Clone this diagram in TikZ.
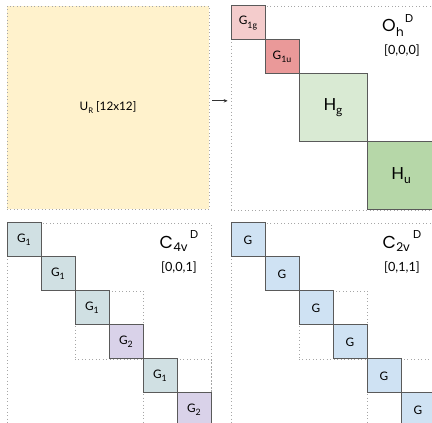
\documentclass[tikz,border=0pt]{standalone}
\usepackage{fontspec}
\setmainfont{Lato}
\newfontfamily\geo{Poppins}
\usetikzlibrary{arrows.meta}
\definecolor{yel}{HTML}{FFF2CC}
\definecolor{dotgray}{HTML}{A6A6A6}
\definecolor{edge}{HTML}{5A5A5A}
\definecolor{rlight}{HTML}{F4CCCC}
\definecolor{rdark}{HTML}{EA9999}
\definecolor{glight}{HTML}{D9EAD3}
\definecolor{gdark}{HTML}{B6D7A8}
\definecolor{cyanish}{HTML}{D0E0E3}
\definecolor{purp}{HTML}{D9D2E9}
\definecolor{blu}{HTML}{CFE2F3}
\newcommand\sbs[1]{\raisebox{-2.5pt}{\fontsize{6.6}{7}\selectfont #1}}
\newcommand\sbb[1]{\raisebox{-3pt}{\fontsize{9}{10}\selectfont #1}}
\begin{document}
\begin{tikzpicture}[x=0.75pt,y=-0.75pt,
  frame/.style={draw=dotgray, dotted, line width=0.6pt, inner sep=0pt, outer sep=0pt, anchor=north west},
  blk/.style={draw=edge, line width=0.75pt, inner sep=0pt, outer sep=0pt, anchor=north west,
    minimum width=25.5pt, minimum height=25.5pt, font=\fontsize{8.8}{9}\selectfont},
  bigblk/.style={blk, minimum width=51pt, minimum height=51pt, font=\fontsize{12.5}{13}\selectfont},
  lbl/.style={inner sep=0pt, outer sep=0pt, anchor=base west, text=black},
  bigl/.style={lbl, font=\geo\fontsize{13}{14}\selectfont},
  subl/.style={lbl, font=\geo\fontsize{9}{10}\selectfont},
  supl/.style={lbl, font=\geo\fontsize{8.6}{9}\selectfont},
  vec/.style={inner sep=0pt, font=\fontsize{9.5}{10}\selectfont},
  arr/.style={draw=black!80, line width=0.6pt, -{Stealth[length=3pt,width=2.6pt]}}
]
\useasboundingbox (0,0) rectangle (432,423);

% ---------- U_R ----------
\node[frame, fill=yel, minimum width=151.5pt, minimum height=152.25pt,
  font=\fontsize{8.8}{9}\selectfont] (U) at (7,6) {U\raisebox{-2pt}{\fontsize{5.8}{6}\selectfont R} [12x12]};

% ---------- O_h ----------
\node[frame, minimum width=153pt, minimum height=153pt] (OhF) at (231,6) {};
\node[blk, fill=rlight] (g1g) at (231,6) {G\sbs{1g}};
\node[blk, fill=rdark] (g1u) at (265,40) {G\sbs{1u}};
\node[bigblk, fill=glight] (hg) at (299,74) {H\sbb{g}};
\node[bigblk, fill=gdark] (hu) at (367,142) {H\sbb{u}};
\node[bigl] (OhO) at (382,31.7) {O};
\node[subl] (Ohh) at ([xshift=0.3pt,yshift=-3.8pt]OhO.base east) {h};
\node[supl] (OhD) at (405,23) {D};
\node[vec] (OhV) at (402,51) {[0,0,0]};

\draw[arr, shorten <=2.5pt, shorten >=2.5pt] ([yshift=5pt]U.east) -- ([yshift=5pt]U.east -| OhF.west);

% ---------- C_4v ----------
\node[frame, minimum width=153pt, minimum height=153pt] (C4F) at (7,223) {};
\node[frame, minimum width=51pt, minimum height=51pt] (C4a) at (75,291) {};
\node[frame, minimum width=51pt, minimum height=51pt] (C4b) at (143,359) {};
\node[blk, fill=cyanish] (c1) at (7,223) {G\sbs{1}};
\node[blk, fill=cyanish] (c2) at (41,257) {G\sbs{1}};
\node[blk, fill=cyanish] (c3) at (75,291) {G\sbs{1}};
\node[blk, fill=purp] (c4) at (109,325) {G\sbs{2}};
\node[blk, fill=cyanish] (c5) at (143,359) {G\sbs{1}};
\node[blk, fill=purp] (c6) at (177,393) {G\sbs{2}};
\node[bigl] (C4C) at (159.5,248.5) {C};
\node[subl] (C4s) at ([xshift=0.3pt,yshift=-2.6pt]C4C.base east) {4v};
\node[supl] (C4D) at (190,239) {D};
\node[vec] (C4V) at (179,268) {[0,0,1]};

% ---------- C_2v ----------
\node[frame, minimum width=153pt, minimum height=153pt] (C2F) at (231,223) {};
\node[frame, minimum width=51pt, minimum height=51pt] (C2a) at (299,291) {};
\node[frame, minimum width=51pt, minimum height=51pt] (C2b) at (367,359) {};
\node[blk, fill=blu] (d1) at (231,223) {G};
\node[blk, fill=blu] (d2) at (265,257) {G};
\node[blk, fill=blu] (d3) at (299,291) {G};
\node[blk, fill=blu] (d4) at (333,325) {G};
\node[blk, fill=blu] (d5) at (367,359) {G};
\node[blk, fill=blu] (d6) at (401,393) {G};
\node[bigl] (C2C) at (382.5,248.5) {C};
\node[subl] (C2s) at ([xshift=0.3pt,yshift=-2.6pt]C2C.base east) {2v};
\node[supl] (C2D) at (413,239) {D};
\node[vec] (C2V) at (402,268) {[0,1,1]};
\end{tikzpicture}
\end{document}
